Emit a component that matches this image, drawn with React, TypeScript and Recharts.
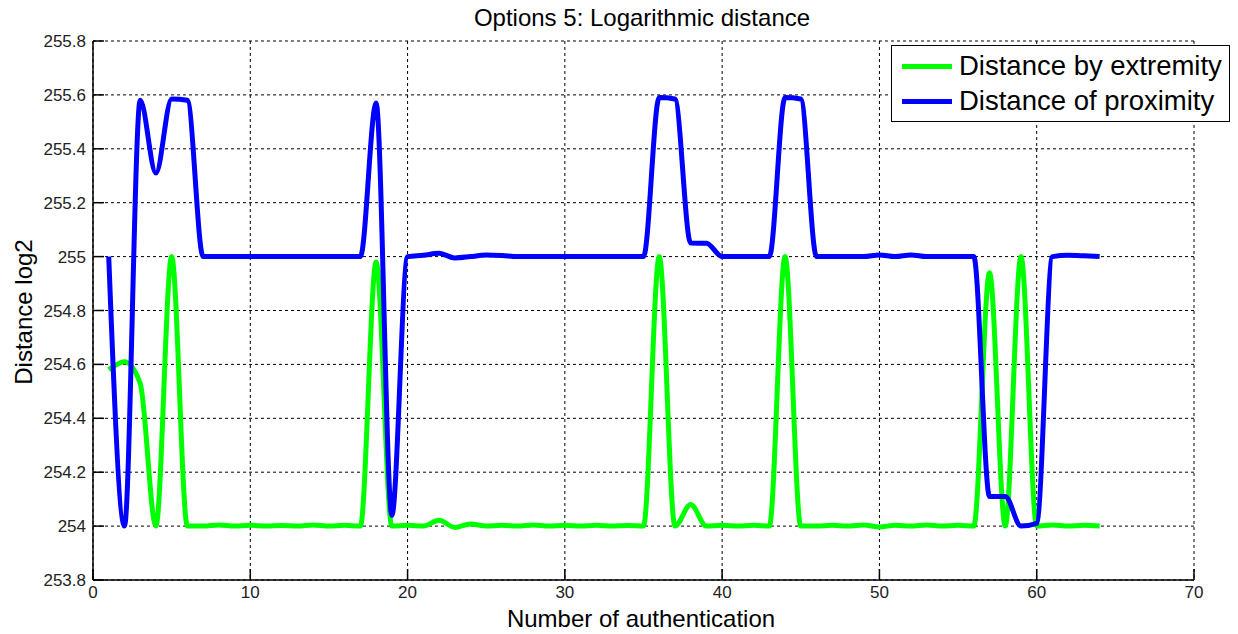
import React from 'react';
import { LineChart, Line, XAxis, YAxis, CartesianGrid, Legend } from 'recharts';

const xValues = [
  1, 2, 3, 4, 5, 6, 7, 8, 9, 10, 11, 12, 13, 14, 15, 16,
  17, 18, 19, 20, 21, 22, 23, 24, 25, 26, 27, 28, 29, 30, 31, 32,
  33, 34, 35, 36, 37, 38, 39, 40, 41, 42, 43, 44, 45, 46, 47, 48,
  49, 50, 51, 52, 53, 54, 55, 56, 57, 58, 59, 60, 61, 62, 63, 64,
];

const extremity = [
  254.58, 254.61, 254.53, 254.0, 255.0, 254.0, 254.0, 254.004, 254.0, 254.003, 254.0, 254.002, 254.0, 254.004, 254.0, 254.003,
  254.0, 254.98, 254.0, 254.003, 254.0, 254.022, 253.995, 254.008, 254.0, 254.003, 254.0, 254.004, 254.0, 254.003, 254.0, 254.003,
  254.0, 254.002, 254.0, 255.0, 254.0, 254.08, 254.0, 254.003, 254.0, 254.003, 254.0, 255.0, 254.0, 254.0, 254.003, 254.0,
  254.004, 253.997, 254.003, 254.0, 254.004, 254.0, 254.003, 254.0, 254.94, 254.0, 255.0, 254.0, 254.004, 254.0, 254.003, 254.0,
];

const proximity = [
  255.0, 254.0, 255.58, 255.31, 255.585, 255.58, 255.0, 255.0, 255.0, 255.0, 255.0, 255.0, 255.0, 255.0, 255.0, 255.0,
  255.0, 255.57, 254.04, 255.0, 255.005, 255.012, 254.995, 255.0, 255.006, 255.004, 255.0, 255.0, 255.0, 255.0, 255.0, 255.0,
  255.0, 255.0, 255.0, 255.59, 255.585, 255.05, 255.05, 255.0, 255.0, 255.0, 255.0, 255.59, 255.585, 255.0, 255.0, 255.0,
  255.0, 255.006, 255.0, 255.006, 255.0, 255.0, 255.0, 255.0, 254.11, 254.11, 254.0, 254.01, 255.0, 255.005, 255.003, 255.0,
];

const xTicks = [0, 10, 20, 30, 40, 50, 60, 70];
const yTicks = [253.8, 254.0, 254.2, 254.4, 254.6, 254.8, 255.0, 255.2, 255.4, 255.6, 255.8];

const seriesNames = ['Distance by extremity', 'Distance of proximity'];
const seriesColors = ['#00FF00', '#0000FF'];

const titleText = 'Options 5: Logarithmic distance';
const xLabelText = 'Number of authentication';
const yLabelText = 'Distance log2';

const data = xValues.map((x, i) => ({ x, extremity: extremity[i], proximity: proximity[i] }));

const FONT = '"Liberation Sans", Arial, Helvetica, sans-serif';

const fmtY = (v: number) =>
  Math.abs(v - Math.round(v)) < 1e-6 ? String(Math.round(v)) : v.toFixed(1);

const LegendBox = (props: any) => {
  const payload = props.payload || [];
  return (
    <div
      style={{
        width: 337,
        height: 75,
        border: '1px solid #000',
        background: '#fff',
        position: 'relative',
        fontFamily: FONT,
        boxSizing: 'content-box',
      }}
    >
      {payload.map((p: any, i: number) => (
        <div
          key={i}
          style={{
            position: 'absolute',
            left: 0,
            top: 4 + i * 35,
            height: 32,
            display: 'flex',
            alignItems: 'center',
            whiteSpace: 'nowrap',
          }}
        >
          <div style={{ marginLeft: 10, width: 50, height: 5, background: p.color }} />
          <span style={{ marginLeft: 7, fontSize: 27.5, color: '#000', lineHeight: '32px' }}>{p.value}</span>
        </div>
      ))}
    </div>
  );
};

export default function App() {
  return (
    <div style={{ position: 'absolute', left: 0, top: 0, width: 1238, height: 634, background: '#fff' }}>
      <LineChart
        width={1238}
        height={634}
        data={data}
        margin={{ top: 41, right: 44, bottom: 0, left: 0 }}
      >
        <CartesianGrid stroke="#000" strokeDasharray="3 3" strokeWidth={1} />
        <XAxis
          dataKey="x"
          type="number"
          domain={[0, 70]}
          ticks={xTicks}
          interval={0}
          height={54}
          axisLine={{ stroke: '#000', strokeWidth: 1.5 }}
          tickLine={{ stroke: '#000', strokeWidth: 1.5 }}
          tickSize={-11}
          tickMargin={17}
          tick={{ fill: '#222', fontSize: 17, fontFamily: FONT }}
        />
        <YAxis
          type="number"
          domain={[253.8, 255.8]}
          ticks={yTicks}
          interval={0}
          width={93}
          tickFormatter={fmtY}
          axisLine={{ stroke: '#000', strokeWidth: 1.5 }}
          tickLine={{ stroke: '#000', strokeWidth: 1.5 }}
          tickSize={-11}
          tickMargin={18}
          tick={{ fill: '#222', fontSize: 17, fontFamily: FONT }}
        />
        <Legend
          layout="horizontal"
          verticalAlign="middle"
          align="center"
          wrapperStyle={{ left: 891, top: 45, width: 339, height: 77 }}
          content={<LegendBox />}
        />
        <Line
          type="monotone"
          dataKey="extremity"
          name={seriesNames[0]}
          stroke={seriesColors[0]}
          strokeWidth={5}
          dot={false}
          activeDot={false}
          isAnimationActive={false}
        />
        <Line
          type="monotone"
          dataKey="proximity"
          name={seriesNames[1]}
          stroke={seriesColors[1]}
          strokeWidth={5}
          dot={false}
          activeDot={false}
          isAnimationActive={false}
        />
      </LineChart>
      <div
        style={{
          position: 'absolute',
          left: 642,
          top: 6,
          transform: 'translateX(-50%)',
          fontFamily: FONT,
          fontSize: 24,
          lineHeight: '24px',
          whiteSpace: 'nowrap',
          color: '#000',
        }}
      >
        {titleText}
      </div>
      <div
        style={{
          position: 'absolute',
          left: 641,
          top: 607,
          transform: 'translateX(-50%)',
          fontFamily: FONT,
          fontSize: 24,
          lineHeight: '24px',
          whiteSpace: 'nowrap',
          color: '#000',
        }}
      >
        {xLabelText}
      </div>
      <div
        style={{
          position: 'absolute',
          left: 24,
          top: 312,
          transform: 'translate(-50%, -50%) rotate(-90deg)',
          fontFamily: FONT,
          fontSize: 24,
          lineHeight: '24px',
          whiteSpace: 'nowrap',
          color: '#000',
        }}
      >
        {yLabelText}
      </div>
    </div>
  );
}
